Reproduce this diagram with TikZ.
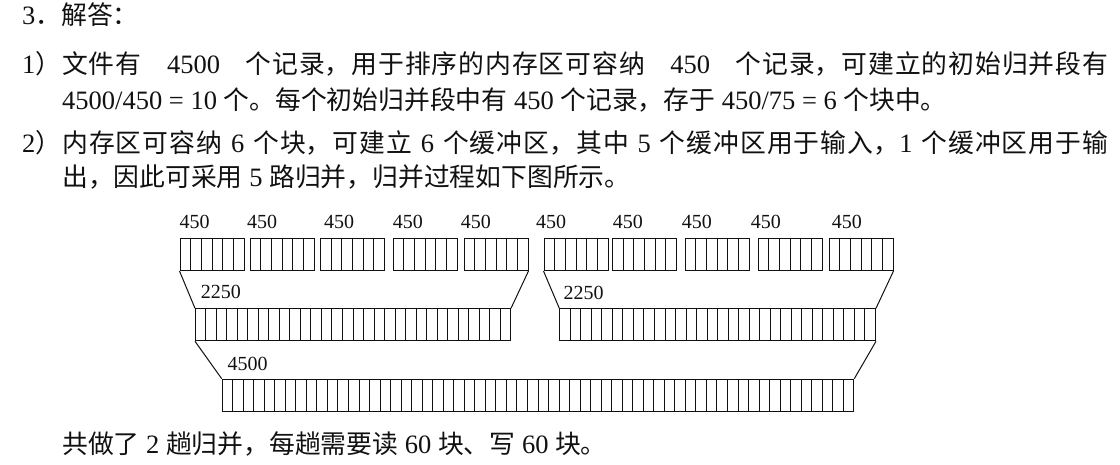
\documentclass[tikz,border=0pt]{standalone}
\usepackage{fontspec}
\setmainfont{Liberation Serif}
\newfontfamily\cjk{Noto Sans CJK SC}
\usetikzlibrary{calc}
\newcommand\zh[1]{{\cjk\fontsize{25.8}{30}\selectfont #1}}
\XeTeXlinebreaklocale "zh"
\XeTeXlinebreakskip=0pt plus 0.5pt
\definecolor{ink}{HTML}{111111}
\tikzset{
  txt/.style={anchor=base west,inner sep=0,text=ink,font=\fontsize{26.5}{30}\selectfont},
  full line/.style={txt,text width=1086pt},
  cnt/.style={anchor=base west,inner sep=0,text=ink,font=\fontsize{20}{22}\selectfont},
  runbox/.style 2 args={draw=ink,line width=1pt,anchor=north west,inner sep=0,minimum height=32pt,minimum width=#1,
    path picture={\foreach \k in {1,...,#2}{\draw[ink,line width=1pt] ($(path picture bounding box.south west)!\k/#2!(path picture bounding box.south east)$)--($(path picture bounding box.north west)!\k/#2!(path picture bounding box.north east)$);}}},
  feed/.style={draw=ink,line width=1pt}
}
\begin{document}
\begin{tikzpicture}[x=1pt,y=-1pt]
\useasboundingbox (0,0) rectangle (1120,465);
\node[txt] (t0) at (22,25) {3\zh{．解答：}};
\node[full line] (t1) at (22,74) {\leftskip=0pt\rightskip=0pt\parfillskip=0pt\tolerance=10000\spaceskip=6.6pt plus 10pt 1\zh{）文件有} 4500 \zh{个记录，用于排序的内存区可容纳} 450 \zh{个记录，可建立的初始归并段有}\par};
\node[txt] (t2) at (62,110) {4500/450 = 10 \zh{个。每个初始归并段中有} 450 \zh{个记录，存于} 450/75 = 6 \zh{个块中。}};
\node[full line] (t3) at (22,153) {\leftskip=0pt\rightskip=0pt\parfillskip=0pt\tolerance=10000 2\zh{）内存区可容纳} 6 \zh{个块，可建立} 6 \zh{个缓冲区，其中} 5 \zh{个缓冲区用于输入，}1 \zh{个缓冲区用于输}\par};
\node[txt] (t4) at (62,187) {\zh{出，因此可采用} 5 \zh{路归并，归并过程如下图所示。}};
\foreach \x [count=\i] in {179.5,249.5,320,392.5,463.5,543.5,612,684.5,757.5,828.5}
  \node[runbox={64pt}{6}] (r\i) at (\x,238) {};
\foreach \x [count=\i] in {179.3,247,324,392.7,460.7,536,612.7,681.7,750.7,831.7}
  \node[cnt] (n\i) at (\x,228.3) {450};
\node[runbox={315pt}{30}] (m1) at (195,308.3) {};
\node[runbox={315.7pt}{30}] (m2) at (559.3,308.3) {};
\node[runbox={631.6pt}{60}] (full) at (221.7,378.7) {};
\node[cnt] (s1) at (200.7,299) {2250};
\node[cnt] (s2) at (563.3,300) {2250};
\node[cnt] (s3) at (227.3,370.7) {4500};
\draw[feed] (r1.south west) -- (m1.north west);
\draw[feed] (r5.south east) -- (m1.north east);
\draw[feed] (r6.south west) -- (m2.north west);
\draw[feed] (r10.south east) -- (m2.north east);
\draw[feed] (m1.south west) -- (full.north west);
\draw[feed] (m2.south east) -- (full.north east);
\node[txt] (t5) at (62,453) {\zh{共做了} 2 \zh{趟归并，每趟需要读} 60 \zh{块、写} 60 \zh{块。}};
\end{tikzpicture}
\end{document}
